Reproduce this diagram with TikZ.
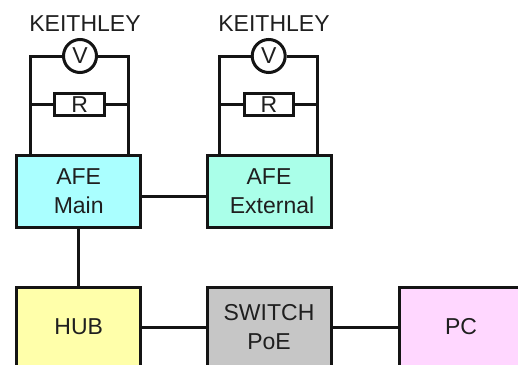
\documentclass[tikz,border=0pt]{standalone}
\usepackage{fontspec}
\setmainfont{Liberation Sans}
\tikzset{
  wire/.style={line width=3pt,draw=black!92},
  blockbox/.style={draw=black!92,line width=3pt,minimum width=124pt,align=center,inner sep=0pt,font=\fontsize{23}{29}\selectfont,text=black!88},
  meter/.style={circle,draw=black!92,line width=3pt,minimum size=33pt,inner sep=0pt,fill=white,font=\fontsize{23}{23}\selectfont,text=black!88},
  resbox/.style={rectangle,draw=black!92,line width=3pt,minimum width=49.5pt,minimum height=22.5pt,inner sep=0pt,fill=white,font=\fontsize{23}{23}\selectfont,text=black!88},
  caption/.style={font=\fontsize{23}{23}\selectfont,text=black!88,inner sep=0pt}
}
\begin{document}
\begin{tikzpicture}[x=1pt,y=-1pt]
\useasboundingbox (0,0) rectangle (518,364);
\clip (0,0) rectangle (518,364);
% blocks
\node[blockbox,fill={rgb,255:red,170;green,255;blue,255},minimum height=72pt] (afem) at (78.7,191.5) {AFE\\Main};
\node[blockbox,fill={rgb,255:red,170;green,255;blue,233},minimum height=72pt] (afee) at (269,191.5) {AFE\\\hspace*{6pt}External};
\node[blockbox,fill={rgb,255:red,255;green,255;blue,170},minimum height=80pt] (hub) at (78.7,327) {HUB};
\node[blockbox,fill={rgb,255:red,198;green,198;blue,198},minimum height=80pt] (sw) at (269,327) {SWITCH\\PoE};
\node[blockbox,fill={rgb,255:red,255;green,215;blue,255},minimum height=80pt] (pc) at (461,327) {PC};
% instruments
\node[meter] (v1) at (80,56) {V};
\node[meter] (v2) at (268.7,56) {V};
\node[resbox] (r1) at (79.7,104.5) {R};
\node[resbox] (r2) at (269,104.5) {R};
\node[caption] (k1) at (85,23.5) {KEITHLEY};
\node[caption] (k2) at (274,23.5) {KEITHLEY};
% corner and link coordinates
\coordinate (a1) at (30.5,56);
\coordinate (b1) at (128,56);
\coordinate (a2) at (219.5,56);
\coordinate (b2) at (317,56);
\coordinate (link) at (170,196);
% wires
\draw[wire] (a1 |- afem.north) -- (a1) -- (v1);
\draw[wire] (v1) -- (b1) -- (b1 |- afem.north);
\draw[wire] (a2 |- afee.north) -- (a2) -- (v2);
\draw[wire] (v2) -- (b2) -- (b2 |- afee.north);
\draw[wire] (a1 |- r1) -- (r1);
\draw[wire] (r1) -- (b1 |- r1);
\draw[wire] (a2 |- r2) -- (r2);
\draw[wire] (r2) -- (b2 |- r2);
\draw[wire] (afem.east |- link) -- (afee.west |- link);
\draw[wire] (afem) -- (hub);
\draw[wire] (hub) -- (sw);
\draw[wire] (sw) -- (pc);
\end{tikzpicture}
\end{document}
